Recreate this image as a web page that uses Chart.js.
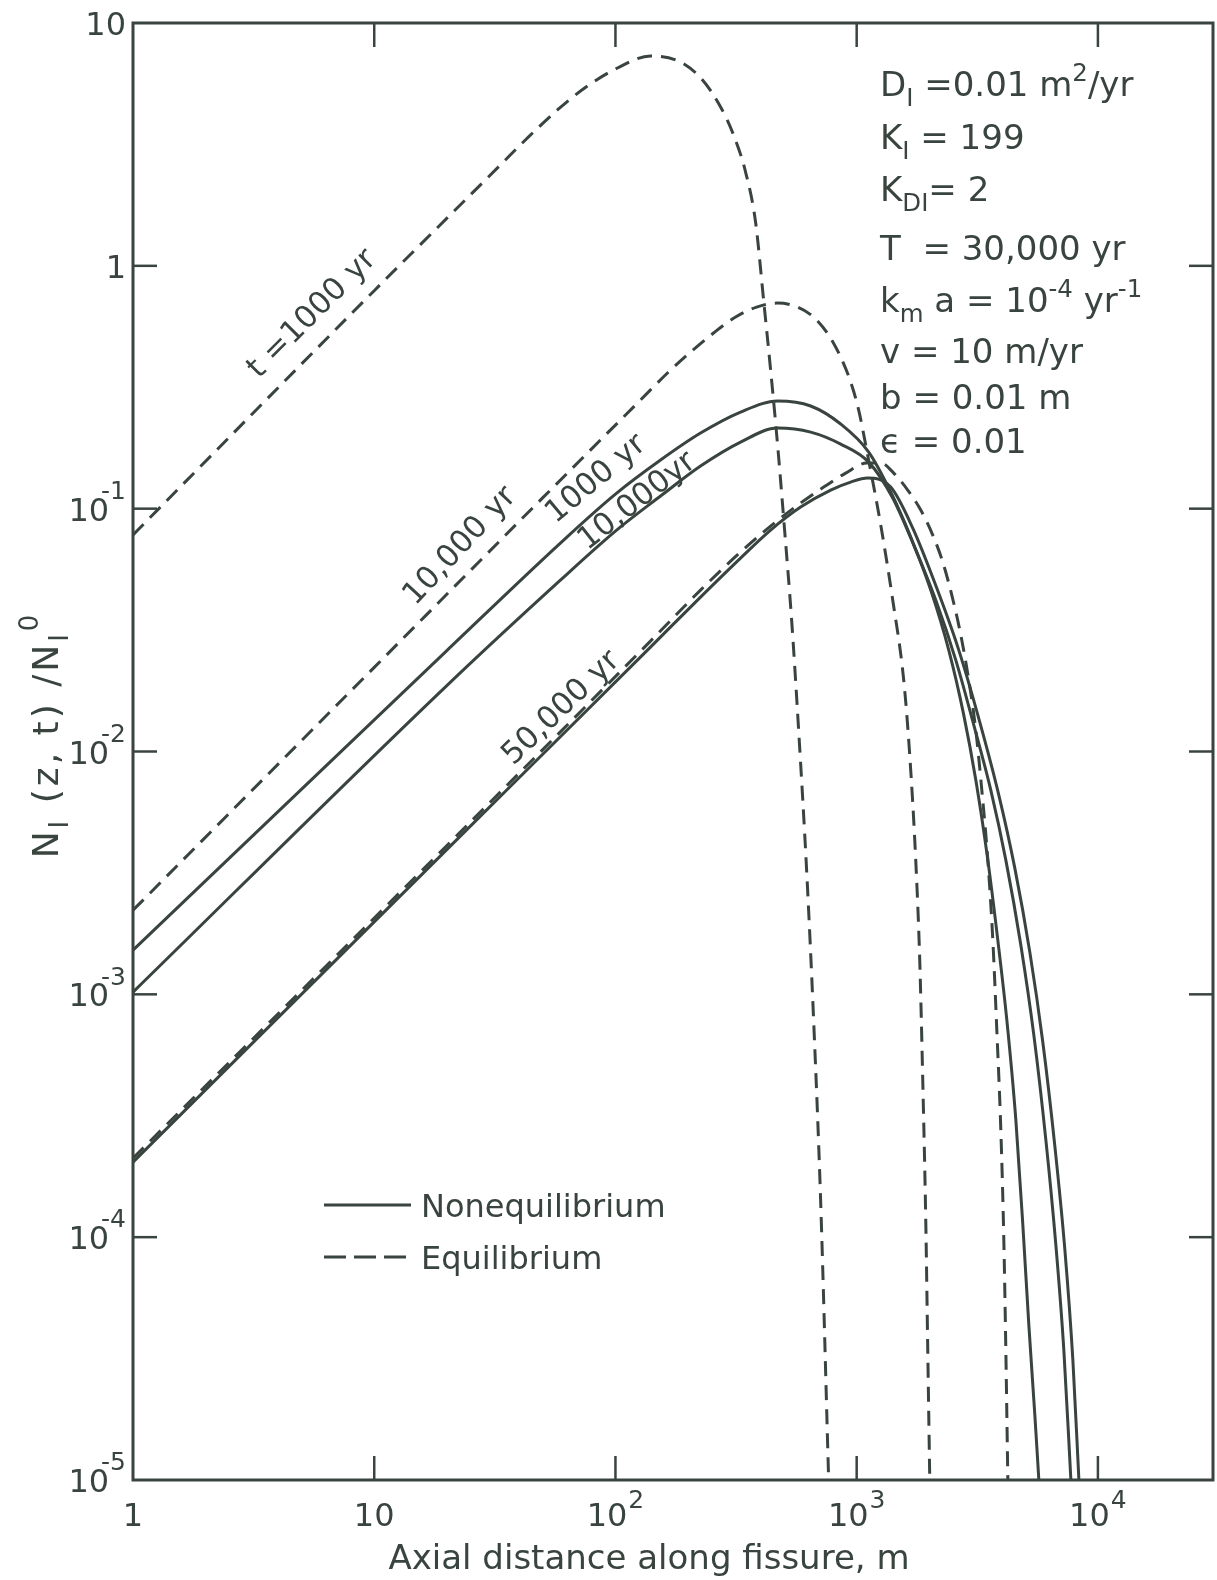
<!DOCTYPE html>
<html>
<head>
<meta charset="utf-8">
<script src="https://cdn.jsdelivr.net/npm/chart.js@4.4.1/dist/chart.umd.min.js"></script>
<style>
  html, body { margin: 0; padding: 0; background: #ffffff; }
  canvas { display: block; }
</style>
</head>
<body>
<canvas id="chart" width="1217" height="1580"></canvas>
<script>
const INK = '#39443f';
const FONT = '"DejaVu Sans", "Liberation Sans", sans-serif';

// Axial distance along fissure (m) and N_I(z,t)/N_I^0 for each curve.
// Equilibrium model, t = 1000 yr
const eq1000X = [1, 10, 33.33, 43.15, 57.45, 76.53, 101.9, 139.7, 186.1, 229.6, 272.8, 308.8, 346.3, 380.9, 411.3, 439.8, 470.1, 502.6, 537.5, 574.6, 620.1, 663.0, 708.8, 765.3];
const eq1000Y = [0.078, 0.79, 2.601, 3.361, 4.383, 5.502, 6.526, 7.313, 6.909, 5.824, 4.508, 3.457, 2.434, 1.515, 0.7231, 0.3723, 0.1827, 0.08161, 0.03477, 0.01225, 0.003248, 0.000783, 0.000142, 0.00001];

// Equilibrium model, t = 10,000 yr
const eq10000X = [1, 10, 50, 127.0, 164.3, 204.8, 255.0, 314.8, 384.6, 470.1, 569.2, 663.0, 765.3, 858.4, 944.4, 1019.3, 1100.3, 1258.2, 1410.7, 1566.8, 1659.3, 1757.3, 1825.6, 1878.9, 1933.7, 1971.0, 2009.0];
const eq10000Y = [0.00222, 0.0222, 0.111, 0.2802, 0.3619, 0.4416, 0.5288, 0.6153, 0.6765, 0.7026, 0.6765, 0.6153, 0.5188, 0.4210, 0.3322, 0.2547, 0.1743, 0.0856, 0.04203, 0.01968, 0.009665, 0.00357, 0.001383, 0.000443, 0.0001175, 0.0000342, 0.00001];

// Equilibrium model, t = 50,000 yr
const eq50000X = [1, 20.67, 139.7, 225.3, 330.1, 439.8, 585.6, 729.7, 900.3, 1100.3, 1258.2, 1424.2, 1627.6, 1843.1, 2067.4, 2274.6, 2479.2, 2701.9, 2915.4, 3117.8, 3301.9, 3496.8, 3667.5, 3810.4, 3958.9, 4073.8, 4152.8, 4233.0];
const eq50000Y = [0.0002115, 0.004235, 0.02849, 0.04621, 0.06627, 0.08478, 0.1055, 0.1227, 0.1401, 0.1541, 0.1541, 0.1401, 0.1193, 0.09867, 0.07786, 0.06026, 0.04406, 0.03016, 0.01968, 0.01225, 0.006934, 0.00357, 0.001672, 0.000712, 0.0002759, 0.0000972, 0.0000342, 0.00001];

// Nonequilibrium model, t = 1000 yr
const neq1000X = [1, 19.9, 59.13, 100, 153.8, 225.3, 330.1, 470.1, 644.4, 858.4, 1121.5, 1384.0, 1675.3, 2028.2, 2408.4, 2779.7, 3117.8, 3496.8, 3846.6, 4192.7, 4569.9, 4884.8, 5172.5, 5477.5, 5691.1];
const neq1000Y = [0.001521, 0.02592, 0.07218, 0.1148, 0.1586, 0.2048, 0.2499, 0.2774, 0.2647, 0.2231, 0.171, 0.1171, 0.07638, 0.04621, 0.02616, 0.01412, 0.007624, 0.00357, 0.001672, 0.000783, 0.0003033, 0.000112, 0.0000434, 0.00001849, 0.00001];

// Nonequilibrium model, t = 10,000 yr
const neq10000X = [1, 19.9, 59.13, 100, 153.8, 225.3, 330.1, 470.1, 644.4, 858.4, 1121.5, 1410.7, 1724.0, 2127.0, 2575.4, 3058.9, 3597.4, 4152.8, 4792.6, 5425.4, 6085.7, 6694.6, 7225.3, 7726.8];
const neq10000Y = [0.001021, 0.0186, 0.05078, 0.08083, 0.1127, 0.1498, 0.188, 0.2148, 0.2067, 0.1845, 0.1555, 0.1106, 0.07082, 0.04203, 0.02379, 0.01285, 0.006934, 0.00357, 0.001594, 0.000679, 0.0002509, 0.0000927, 0.0000342, 0.00001];

// Nonequilibrium model, t = 50,000 yr
const neq50000X = [1, 20.67, 139.7, 225.3, 330.1, 439.8, 585.6, 780.1, 944.4, 1110.6, 1384.0, 1707.7, 2147.7, 2650.0, 3238.4, 3883.8, 4524.7, 5221.1, 5911.0, 6630.1, 7297.1, 7875.0, 8341.5];
const neq50000Y = [0.0002037, 0.004076, 0.02692, 0.04324, 0.06258, 0.08161, 0.1015, 0.1193, 0.1287, 0.1337, 0.1227, 0.08318, 0.0471, 0.02616, 0.01322, 0.006615, 0.003309, 0.001492, 0.000635, 0.000237, 0.0000884, 0.00003113, 0.00001];

// Axis ranges and decade ticks
const xRange = [1, 30000];
const yRange = [0.00001, 10];
const xTicks = [1, 10, 100, 1000, 10000];
const xTickLabels = [['1'], ['10'], ['10', '2'], ['10', '3'], ['10', '4']];
const yTicks = [10, 1, 0.1, 0.01, 0.001, 0.0001, 0.00001];
const yTickLabels = [['10'], ['1'], ['10', '-1'], ['10', '-2'], ['10', '-3'], ['10', '-4'], ['10', '-5']];

// Curve annotations: text, anchor (data units), rotation in degrees
const curveNotes = [
  { text: 't =1000 yr', x: 5.43, y: 0.645, angle: 45 },
  { text: '10,000 yr', x: 22.3, y: 0.0714, angle: 47 },
  { text: '1000 yr', x: 81.8, y: 0.135, angle: 40 },
  { text: '10,000yr', x: 121, y: 0.1095, angle: 38 },
  { text: '50,000 yr', x: 58.6, y: 0.01538, angle: 44 }
];

// Model parameters listed in the upper right
const paramLines = [
  [['D', ''], ['I', 'sub'], [' =0.01 m', ''], ['2', 'sup'], ['/yr', '']],
  [['K', ''], ['I', 'sub'], [' = 199', '']],
  [['K', ''], ['DI', 'sub'], ['= 2', '']],
  [['T  = 30,000 yr', '']],
  [['k', ''], ['m', 'sub'], [' a = 10', ''], ['-4', 'sup'], [' yr', ''], ['-1', 'sup']],
  [['v = 10 m/yr', '']],
  [['b = 0.01 m', '']],
  [['\u03F5 = 0.01', '']]
];

const legendItems = [
  { label: 'Nonequilibrium', dashed: false },
  { label: 'Equilibrium', dashed: true }
];

function toPoints(xs, ys) {
  return xs.map((x, i) => ({ x: x, y: ys[i] }));
}

function series(xs, ys, dashed) {
  return {
    data: toPoints(xs, ys),
    showLine: true,
    borderColor: INK,
    borderWidth: 3,
    borderDash: dashed ? [15, 9] : [],
    borderCapStyle: 'butt',
    borderJoinStyle: 'round',
    pointRadius: 0,
    fill: false,
    cubicInterpolationMode: 'monotone'
  };
}

// Draws text made of normal / superscript / subscript runs.
function drawRich(ctx, parts, x, y, align, size, opts) {
  const o = Object.assign({ supScale: 0.72, supRise: 0.5, subScale: 0.72, subDrop: 0.28, kern: 0, spacing: 0 }, opts || {});
  ctx.letterSpacing = o.spacing + 'px';
  const runs = parts.map(([t, mode]) => {
    const fs = mode ? size * (mode === 'sup' ? o.supScale : o.subScale) : size;
    ctx.font = fs + 'px ' + FONT;
    return { t, mode, fs, w: ctx.measureText(t).width };
  });
  const total = runs.reduce((s, r) => s + r.w, 0) + o.kern * (runs.length - 1);
  let cx = align === 'right' ? x - total : align === 'center' ? x - total / 2 : x;
  ctx.textBaseline = 'alphabetic';
  ctx.textAlign = 'left';
  runs.forEach(r => {
    ctx.font = r.fs + 'px ' + FONT;
    let dy = 0;
    if (r.mode === 'sup') dy = -size * o.supRise;
    if (r.mode === 'sub') dy = size * o.subDrop;
    ctx.fillText(r.t, cx, y + dy);
    cx += r.w + o.kern;
  });
  ctx.letterSpacing = '0px';
  return total;
}

const paperAxes = {
  id: 'paperAxes',
  afterDatasetsDraw(chart) {
    const { ctx, chartArea: a, scales: { x, y } } = chart;
    ctx.save();
    ctx.strokeStyle = INK;
    ctx.fillStyle = INK;

    // frame
    ctx.lineWidth = 3;
    ctx.strokeRect(a.left, a.top, a.right - a.left, a.bottom - a.top);

    // inward decade ticks on all four sides
    const seg = (x1, y1, x2, y2) => { ctx.beginPath(); ctx.moveTo(x1, y1); ctx.lineTo(x2, y2); ctx.stroke(); };
    ctx.lineWidth = 2.5;
    const tl = 24;
    xTicks.forEach(v => {
      if (v === xRange[0]) return;
      const px = x.getPixelForValue(v);
      seg(px, a.bottom, px, a.bottom - tl);
      seg(px, a.top, px, a.top + tl);
    });
    yTicks.forEach(v => {
      if (v === yRange[0] || v === yRange[1]) return;
      const py = y.getPixelForValue(v);
      seg(a.left, py, a.left + tl, py);
      seg(a.right, py, a.right - tl, py);
    });

    // tick labels
    const ts = 32;
    xTicks.forEach((v, i) => {
      const parts = xTickLabels[i].map((t, k) => [t, k ? 'sup' : '']);
      drawRich(ctx, parts, x.getPixelForValue(v), a.bottom + 46, 'center', ts, { supScale: 0.78, supRise: 0.55, kern: 1 });
    });
    yTicks.forEach((v, i) => {
      const parts = yTickLabels[i].map((t, k) => [t, k ? 'sup' : '']);
      drawRich(ctx, parts, a.left - 7, y.getPixelForValue(v) + 12, 'right', ts, { supScale: 0.78, supRise: 0.68, kern: -8 });
    });

    // axis titles
    drawRich(ctx, [['Axial distance along fissure, m', '']], 649, a.bottom + 89, 'center', 34);

    ctx.save();
    ctx.translate(58, 735);
    ctx.rotate(-Math.PI / 2);
    drawRich(ctx, [['N', ''], ['I', 'sub'], [' (z, t) /N', ''], ['I', 'sub'], ['0', 'sup']], 0, 0, 'center', 36, { supRise: 0.55, spacing: 3 });
    ctx.restore();

    // curve annotations
    curveNotes.forEach(n => {
      ctx.save();
      ctx.translate(x.getPixelForValue(n.x), y.getPixelForValue(n.y));
      ctx.rotate(-n.angle * Math.PI / 180);
      drawRich(ctx, [[n.text, '']], 0, 11, 'center', 31);
      ctx.restore();
    });

    // parameter block
    const pBase = [96, 149, 201, 260, 312, 363, 409, 453];
    paramLines.forEach((parts, i) => {
      drawRich(ctx, parts, a.left + 747, pBase[i], 'left', 34, { supRise: 0.45, subDrop: 0.3 });
    });

    // legend
    legendItems.forEach((it, i) => {
      const ly = 1205 + i * 52;
      ctx.lineWidth = 3;
      ctx.setLineDash(it.dashed ? [22, 8] : []);
      seg(324, ly, 411, ly);
      ctx.setLineDash([]);
      drawRich(ctx, [[it.label, '']], 421, ly + 12, 'left', 32);
    });

    ctx.restore();
  }
};

new Chart(document.getElementById('chart'), {
  type: 'scatter',
  data: {
    datasets: [
      series(eq1000X, eq1000Y, true),
      series(eq10000X, eq10000Y, true),
      series(eq50000X, eq50000Y, true),
      series(neq1000X, neq1000Y, false),
      series(neq10000X, neq10000Y, false),
      series(neq50000X, neq50000Y, false)
    ]
  },
  options: {
    responsive: false,
    animation: false,
    events: [],
    layout: { padding: { left: 133, top: 23, right: 4, bottom: 100 } },
    scales: {
      x: { type: 'logarithmic', min: xRange[0], max: xRange[1], display: false },
      y: { type: 'logarithmic', min: yRange[0], max: yRange[1], display: false }
    },
    plugins: { legend: { display: false }, tooltip: { enabled: false } }
  },
  plugins: [paperAxes]
});
</script>
</body>
</html>
